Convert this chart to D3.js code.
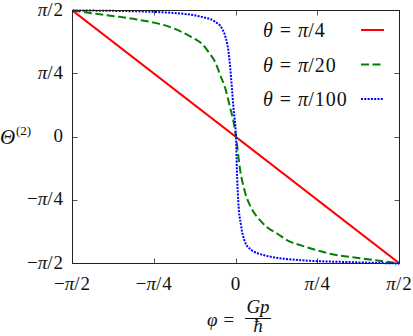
<!DOCTYPE html>
<html>
<head>
<meta charset="utf-8">
<script src="https://cdn.jsdelivr.net/npm/d3@7"></script>
<style>
  body { margin: 0; background: #fff; }
  svg { display: block; font-family: "Liberation Serif", serif; }
</style>
</head>
<body>
<div id="chart"></div>
<script>
// values in radians
const redPhi = [-1.571, 1.571];
const redTheta = [1.571, -1.571];

const greenPhi = [-1.571, -1.274, -0.953, -0.633, -0.440, -0.312, -0.250, -0.200, -0.152, -0.103, -0.055, -0.024, 0,
  0.038, 0.086, 0.150, 0.230, 0.294, 0.394, 0.522, 0.618, 0.891, 1.212, 1.571];
const greenTheta = [1.571, 1.518, 1.460, 1.364, 1.250, 1.137, 1.030, 0.930, 0.770, 0.604, 0.356, 0.191, 0,
  -0.392, -0.682, -0.888, -1.033, -1.116, -1.198, -1.302, -1.343, -1.446, -1.508, -1.571];

const bluePhi = [-1.571, -1.114, -0.633, -0.296, -0.200, -0.135, -0.097, -0.072, -0.055, -0.039, -0.024, 0,
  0.008, 0.022, 0.048, 0.086, 0.150, 0.214, 0.294, 0.618, 1.099, 1.571];
const blueTheta = [1.571, 1.565, 1.543, 1.481, 1.431, 1.348, 1.224, 1.059, 0.852, 0.604, 0.356, 0,
  -0.388, -0.806, -1.095, -1.302, -1.405, -1.446, -1.476, -1.529, -1.554, -1.571];

const tickValues = [-Math.PI / 2, -Math.PI / 4, 0, Math.PI / 4, Math.PI / 2];
const tickLabels = [["−", "π", "/2"], ["−", "π", "/4"], ["", "", "0"], ["", "π", "/4"], ["", "π", "/2"]];

const legendLabels = ["/4", "/20", "/100"];

const width = 413, height = 336;
const x0 = 72.5, x1 = 399.5, y0 = 10.5, y1 = 263.5;
const fs = 19;

const svg = d3.select("#chart").append("svg")
  .attr("width", width)
  .attr("height", height);

const x = d3.scaleLinear().domain([-Math.PI / 2, Math.PI / 2]).range([x0, x1]);
const y = d3.scaleLinear().domain([-Math.PI / 2, Math.PI / 2]).range([y1, y0]);

svg.append("clipPath").attr("id", "clip")
  .append("rect").attr("x", x0).attr("y", y0 - 2).attr("width", x1 - x0).attr("height", y1 - y0 + 4);

// ticks, mirrored on all sides, pointing inward
const tickLen = 5;
const ticks = svg.append("g").attr("stroke", "#555").attr("stroke-width", 1);
tickValues.forEach(v => {
  const px = Math.round(x(v) - 0.5) + 0.5, py = Math.round(y(v) - 0.5) + 0.5;
  ticks.append("line").attr("x1", px).attr("x2", px).attr("y1", y1).attr("y2", y1 - tickLen);
  ticks.append("line").attr("x1", px).attr("x2", px).attr("y1", y0).attr("y2", y0 + tickLen);
  ticks.append("line").attr("x1", x0).attr("x2", x0 + tickLen).attr("y1", py).attr("y2", py);
  ticks.append("line").attr("x1", x1).attr("x2", x1 - tickLen).attr("y1", py).attr("y2", py);
});

function mathText(sel, parts) {
  sel.append("tspan").text(parts[0]);
  sel.append("tspan").attr("font-style", "italic").text(parts[1]);
  sel.append("tspan").attr("letter-spacing", 1).text(parts[2]);
}

// y tick labels
tickValues.forEach((v, i) => {
  const t = svg.append("text")
    .attr("x", 64).attr("y", y(v) + 5)
    .attr("text-anchor", "end")
    .attr("font-size", fs).attr("fill", "#111");
  mathText(t, tickLabels[i]);
});

// x tick labels
tickValues.forEach((v, i) => {
  const t = svg.append("text")
    .attr("x", x(v)).attr("y", 290)
    .attr("text-anchor", "middle")
    .attr("font-size", fs).attr("fill", "#111");
  mathText(t, tickLabels[i]);
});

// curves
const line = d3.line()
  .x(d => x(d[0]))
  .y(d => y(d[1]))
  .curve(d3.curveMonotoneX);

const plot = svg.append("g").attr("clip-path", "url(#clip)");

const series = [
  { phi: redPhi, theta: redTheta, color: "#ff0000", dash: null },
  { phi: greenPhi, theta: greenTheta, color: "#008000", dash: "8,3.5" },
  { phi: bluePhi, theta: blueTheta, color: "#0000ff", dash: "2,1.3" }
];

series.forEach(s => {
  plot.append("path")
    .datum(d3.zip(s.phi, s.theta))
    .attr("d", line)
    .attr("fill", "none")
    .attr("stroke", s.color)
    .attr("stroke-width", 2)
    .attr("stroke-dasharray", s.dash);
});

// frame
svg.append("rect")
  .attr("x", x0).attr("y", y0)
  .attr("width", x1 - x0).attr("height", y1 - y0)
  .attr("fill", "none")
  .attr("stroke", "#222")
  .attr("stroke-width", 1);

// legend
series.forEach((s, i) => {
  const ly = 30 + i * 34.5;
  const t = svg.append("text")
    .attr("x", 263).attr("y", ly + 7)
    .attr("font-size", 20).attr("fill", "#111");
  t.append("tspan").attr("font-style", "italic").text("θ");
  t.append("tspan").attr("dx", 7).text("=");
  t.append("tspan").attr("dx", 7).attr("font-style", "italic").text("π");
  t.append("tspan").attr("letter-spacing", 1).text(legendLabels[i]);
  svg.append("line")
    .attr("x1", 361).attr("x2", 384)
    .attr("y1", ly).attr("y2", ly)
    .attr("stroke", s.color)
    .attr("stroke-width", 2)
    .attr("stroke-dasharray", s.dash);
});

// y axis title
const yt = svg.append("text").attr("x", 0).attr("y", 144).attr("font-size", 21).attr("fill", "#111");
yt.append("tspan").attr("font-style", "italic").text("Θ");
svg.append("text").attr("x", 16).attr("y", 135).attr("font-size", 13).attr("fill", "#111").text("(2)");

// x axis title
const xt = svg.append("text").attr("x", 207).attr("y", 326).attr("font-size", fs).attr("fill", "#111");
xt.append("tspan").attr("font-style", "italic").text("φ");
xt.append("tspan").attr("dx", 6).text("=");
svg.append("text").attr("x", 258).attr("y", 313).attr("text-anchor", "middle")
  .attr("font-size", fs).attr("font-style", "italic").attr("fill", "#111").text("Gp");
svg.append("line").attr("x1", 245).attr("x2", 271).attr("y1", 318.5).attr("y2", 318.5)
  .attr("stroke", "#111").attr("stroke-width", 1);
svg.append("text").attr("x", 258).attr("y", 332).attr("text-anchor", "middle")
  .attr("font-size", fs).attr("font-style", "italic").attr("fill", "#111").text("ħ");
</script>
</body>
</html>
